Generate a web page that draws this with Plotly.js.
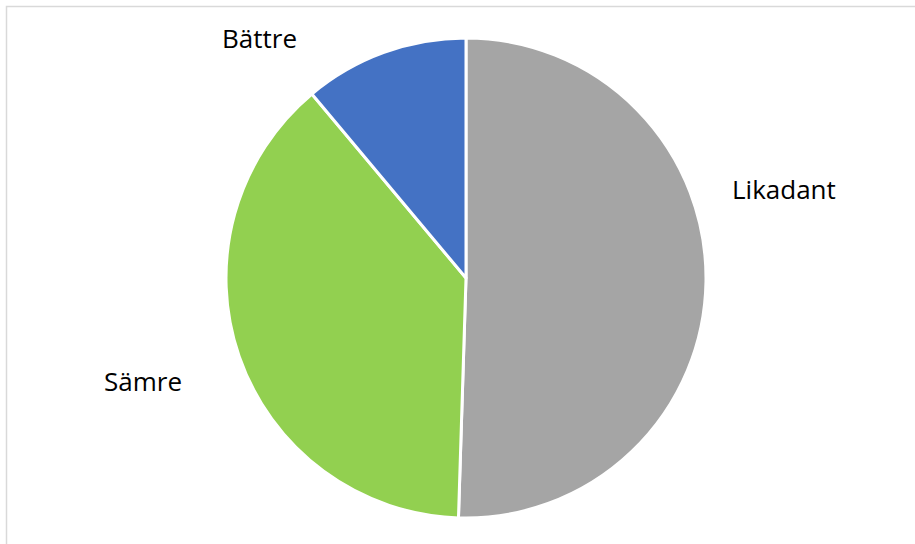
<!DOCTYPE html>
<html>
<head>
<meta charset="utf-8">
<script src="https://cdn.plot.ly/plotly-3.0.1.min.js"></script>
<style>html,body{margin:0;padding:0;background:#fff;}#chart{width:915px;height:544px;}</style>
</head>
<body>
<div id="chart"></div>
<script>
const labels = ["Likadant", "Sämre", "Bättre"];
const values = [50.5, 38.4, 11.1];
const colors = ["#A5A5A5", "#92D050", "#4472C4"];

// label placement (paper fraction) for the outside labels
const labelX = [784/915, 143/915, 259/915];
const labelY = [1 - 189/544, 1 - 381/544, 1 - 38/544];

const trace = {
  type: "pie",
  labels: labels,
  values: values,
  sort: false,
  direction: "clockwise",
  rotation: 0,
  marker: { colors: colors, line: { color: "#ffffff", width: 3 } },
  textinfo: "none",
  hoverinfo: "label+percent",
  showlegend: false,
  domain: { x: [226/915, 706/915], y: [1 - 518/544, 1 - 38/544] }
};

const annotations = labels.map((l, i) => ({
  text: l, x: labelX[i], y: labelY[i], xref: "paper", yref: "paper",
  showarrow: false, xanchor: "center", yanchor: "middle",
  font: { family: "Open Sans, sans-serif", size: 26, color: "#000" }
}));

const layout = {
  width: 915, height: 544,
  margin: { l: 0, r: 0, t: 0, b: 0 },
  paper_bgcolor: "#ffffff",
  showlegend: false,
  annotations: annotations,
  shapes: [{
    type: "rect", xref: "paper", yref: "paper",
    x0: 6.5/915, x1: 1.02, y0: -0.02, y1: 1 - 6.5/544,
    line: { color: "#D9D9D9", width: 1.5 }, fillcolor: "rgba(0,0,0,0)"
  }]
};

Plotly.newPlot("chart", [trace], layout, { displayModeBar: false, staticPlot: true });
</script>
</body>
</html>
